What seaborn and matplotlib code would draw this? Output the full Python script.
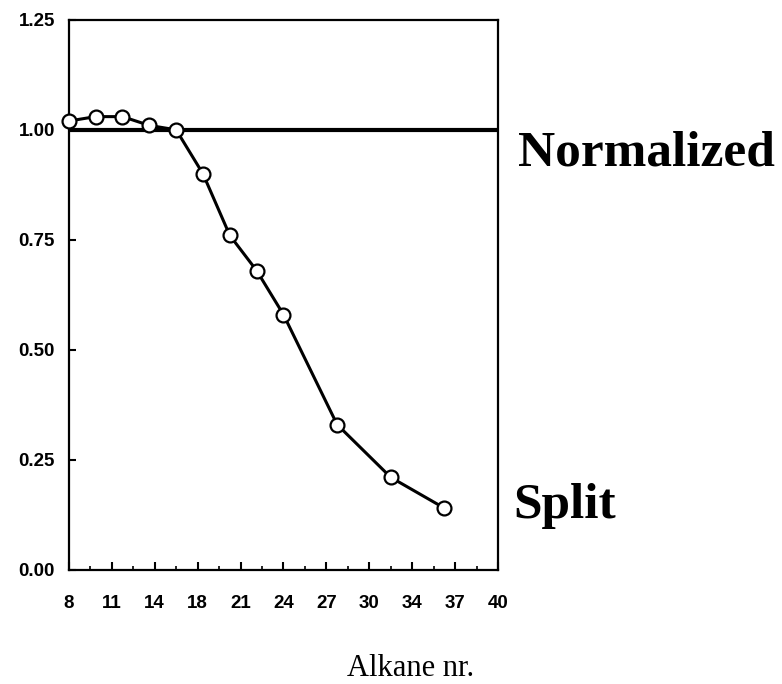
import numpy as np
import pandas as pd
import matplotlib
matplotlib.use("Agg")
import matplotlib.pyplot as plt
import seaborn as sns

# data
alkane = [8, 10, 12, 14, 16, 18, 20, 22, 24, 28, 32, 36]
split_ratio = [1.02, 1.03, 1.03, 1.01, 1.00, 0.90, 0.76, 0.68, 0.58, 0.33, 0.21, 0.14]
normalized_x = [8, 40]
normalized_y = [1.0, 1.0]
xtick_labels = ['8', '11', '14', '18', '21', '24', '27', '30', '34', '37', '40']
ytick_values = [0.00, 0.25, 0.50, 0.75, 1.00, 1.25]

df_split = pd.DataFrame({'Alkane': alkane, 'Ratio': split_ratio})
df_norm = pd.DataFrame({'Alkane': normalized_x, 'Ratio': normalized_y})

sns.set_theme(style="white")
plt.rcParams.update({
    'font.family': ['Liberation Sans', 'DejaVu Sans'],
    'text.color': 'black',
    'xtick.color': 'black',
    'ytick.color': 'black',
    'axes.edgecolor': 'black',
})

fig = plt.figure(figsize=(7.82, 6.84), dpi=100)
ax = fig.add_axes([0.088, 0.167, 0.549, 0.804])

# reference line (normalized)
sns.lineplot(data=df_norm, x='Alkane', y='Ratio', ax=ax, color='black',
             linewidth=3.0, zorder=2)
# split injection curve
sns.lineplot(data=df_split, x='Alkane', y='Ratio', ax=ax, color='black',
             linewidth=2.2, marker='o', markersize=10, markerfacecolor='white',
             markeredgecolor='black', markeredgewidth=1.6, zorder=3, clip_on=False)

ax.set_xlim(8, 40)
ax.set_ylim(0, 1.25)
ax.set_xticks(np.linspace(8, 40, len(xtick_labels)))
ax.set_xticklabels(xtick_labels)
ax.set_xticks(np.linspace(8, 40, 2 * len(xtick_labels) - 1), minor=True)
ax.set_yticks(ytick_values)
ax.set_yticklabels([f'{v:.2f}' for v in ytick_values])
ax.set_xlabel('')
ax.set_ylabel('')

ax.tick_params(axis='x', which='major', direction='in', length=6, width=1.5,
               pad=18, labelsize=13.5, bottom=True, top=False)
ax.tick_params(axis='x', which='minor', direction='in', length=3, width=1.2,
               bottom=True, top=False)
ax.tick_params(axis='y', which='major', direction='in', length=5, width=1.5,
               pad=10, labelsize=13.5, left=True, right=False)
for lab in ax.get_xticklabels() + ax.get_yticklabels():
    lab.set_fontweight('bold')

for side in ['left', 'right', 'top', 'bottom']:
    ax.spines[side].set_visible(True)
    ax.spines[side].set_linewidth(1.6)
ax.grid(False)

# labels to the right of the frame
serif = ['Liberation Serif', 'DejaVu Serif']
fig.text(518 / 782, 1 - 165 / 684, 'Normalized', fontsize=37, fontweight='bold',
         family=serif, ha='left', va='baseline')
fig.text(513 / 782, 1 - 518 / 684, 'Split', fontsize=37, fontweight='bold',
         family=serif, ha='left', va='baseline')
fig.text(411 / 782, 1 - 676 / 684, 'Alkane nr.', fontsize=22,
         family=serif, ha='center', va='baseline')

plt.savefig('out.png', dpi=100)
